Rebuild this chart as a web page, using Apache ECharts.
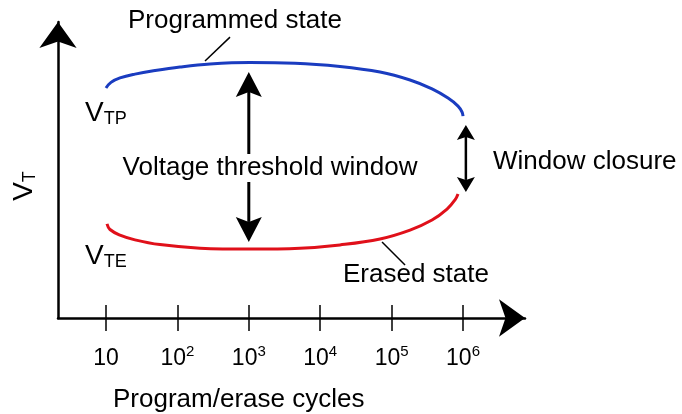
<!DOCTYPE html>
<html>
<head>
	<meta charset="utf-8" />
	<script src="https://cdn.jsdelivr.net/npm/echarts@6/dist/echarts.min.js"></script>
</head>
<body style="margin:0; background-color:#ffffff">
	<div id="main" style="width:682px; height:414px;"></div>
<script type="text/javascript">
	// x is log10(program/erase cycles), y is V_T in arbitrary units
	var decades = [1, 2, 3, 4, 5, 6];
	var exponents = ['', '2', '3', '4', '5', '6'];

	var programmedX = [1.00, 1.07, 1.196, 1.406, 1.686, 2.036, 2.457, 3.017, 3.647, 4.277, 4.838, 5.258, 5.566, 5.79, 5.93, 5.986, 6.00];
	var programmedY = [77.7, 79.6, 81.1, 82.4, 83.6, 84.8, 85.8, 86.3, 86.1, 85.0, 83.1, 80.4, 77.4, 74.3, 71.6, 69.6, 68.2];

	var erasedX = [1.014, 1.056, 1.196, 1.406, 1.756, 2.317, 3.017, 3.717, 4.277, 4.838, 5.258, 5.566, 5.776, 5.888, 5.93];
	var erasedY = [31.8, 29.9, 28.0, 26.4, 24.8, 23.6, 23.3, 23.6, 24.7, 26.7, 29.7, 33.1, 36.8, 39.9, 41.9];

	// [x, top tip, bottom tip]
	var windowArrow = [[3.0, 83.1, 25.7]];
	var closureArrow = [[6.04, 65.2, 42.6]];

	var programmedLeader = [[2.737, 94.9], [2.387, 86.8]];
	var erasedLeader = [[4.866, 25.7], [5.188, 17.9]];

	var font = '"Liberation Sans", Arial, sans-serif';

	function zip(xs, ys) {
		return xs.map(function (x, i) { return [x, ys[i]]; });
	}

	function arrowSeries(data, headW, headL, lw) {
		return {
			type: 'custom',
			data: data,
			encode: { x: 0, y: [1, 2] },
			silent: true,
			z: 5,
			renderItem: function (params, api) {
				var x = api.value(0);
				var t = api.coord([x, api.value(1)]);
				var b = api.coord([x, api.value(2)]);
				var n = headL * 0.8;
				return {
					type: 'group',
					children: [
						{ type: 'line', shape: { x1: t[0], y1: t[1] + n, x2: b[0], y2: b[1] - n }, style: { stroke: '#000', lineWidth: lw } },
						{ type: 'polygon', shape: { points: [[t[0], t[1]], [t[0] + headW / 2, t[1] + headL], [t[0], t[1] + n], [t[0] - headW / 2, t[1] + headL]] }, style: { fill: '#000' } },
						{ type: 'polygon', shape: { points: [[b[0], b[1]], [b[0] + headW / 2, b[1] - headL], [b[0], b[1] - n], [b[0] - headW / 2, b[1] - headL]] }, style: { fill: '#000' } }
					]
				};
			}
		};
	}

	var tickRich = {
		n: { fontSize: 23, lineHeight: 30, fontFamily: font, color: '#000' },
		s: { fontSize: 15, lineHeight: 17, verticalAlign: 'top', fontFamily: font, color: '#000' }
	};

	var subRich = {
		v: { fontSize: 28, lineHeight: 30, fontFamily: font, color: '#000' },
		s: { fontSize: 18, lineHeight: 12, verticalAlign: 'bottom', fontFamily: font, color: '#000' }
	};

	var myChart = echarts.init(document.getElementById('main'));

	option = {
		backgroundColor: '#ffffff',
		animation: false,
		grid: { left: 58, right: 157, top: 22, bottom: 96 },
		xAxis: [
			{
				type: 'value',
				min: 0.328,
				max: 6.868,
				axisLine: { onZero: false, lineStyle: { color: '#000', width: 2.5 }, symbol: ['none', 'arrow'], symbolSize: [28, 26] },
				splitLine: { show: false },
				axisTick: { length: 13, lineStyle: { color: '#000', width: 1.5 }, customValues: decades },
				axisLabel: {
					margin: 26,
					customValues: decades,
					formatter: function (v) {
						var i = decades.indexOf(Math.round(v));
						return '{n|10}' + (exponents[i] ? '{s|' + exponents[i] + '}' : '');
					},
					rich: tickRich
				}
			},
			{
				type: 'value',
				position: 'bottom',
				min: 0.328,
				max: 6.868,
				axisLine: { show: false, onZero: false },
				splitLine: { show: false },
				axisTick: { inside: true, length: 13, lineStyle: { color: '#000', width: 1.5 }, customValues: decades },
				axisLabel: { show: false }
			}
		],
		yAxis: {
			type: 'value',
			min: 0,
			max: 100,
			axisLine: { show: true, onZero: false, lineStyle: { color: '#000', width: 2.5 }, symbol: ['none', 'arrow'], symbolSize: [28, 26] },
			axisTick: { show: false },
			axisLabel: { show: false },
			splitLine: { show: false }
		},
		series: [
			{
				name: 'Programmed state',
				type: 'line',
				data: zip(programmedX, programmedY),
				smooth: 0.4,
				showSymbol: false,
				lineStyle: { color: '#1a3cc0', width: 3 }
			},
			{
				name: 'Erased state',
				type: 'line',
				data: zip(erasedX, erasedY),
				smooth: 0.4,
				showSymbol: false,
				lineStyle: { color: '#e0101a', width: 3 }
			},
			{
				type: 'line',
				data: programmedLeader,
				showSymbol: false,
				lineStyle: { color: '#000', width: 1.5 }
			},
			{
				type: 'line',
				data: erasedLeader,
				showSymbol: false,
				lineStyle: { color: '#000', width: 1.5 }
			},
			arrowSeries(windowArrow, 26, 25, 3),
			arrowSeries(closureArrow, 18, 15, 2.5)
		],
		graphic: [
			{ type: 'text', x: 128, y: 21, z: 100, style: { text: 'Programmed state', font: '26px ' + font, fill: '#000', verticalAlign: 'middle' } },
			{ type: 'text', x: 270, y: 168, z: 100, style: { text: 'Voltage threshold window', font: '26px ' + font, fill: '#000', align: 'center', verticalAlign: 'middle', backgroundColor: '#fff', padding: [1, 4] } },
			{ type: 'text', x: 493, y: 162, z: 100, style: { text: 'Window closure', font: '26px ' + font, fill: '#000', verticalAlign: 'middle' } },
			{ type: 'text', x: 343, y: 275, z: 100, style: { text: 'Erased state', font: '26px ' + font, fill: '#000', verticalAlign: 'middle' } },
			{ type: 'text', x: 113, y: 400, z: 100, style: { text: 'Program/erase cycles', font: '26px ' + font, fill: '#000', verticalAlign: 'middle' } },
			{ type: 'text', x: 85, y: 113, z: 100, style: { text: '{v|V}{s|TP}', rich: subRich, verticalAlign: 'middle' } },
			{ type: 'text', x: 85, y: 256, z: 100, style: { text: '{v|V}{s|TE}', rich: subRich, verticalAlign: 'middle' } },
			{ type: 'text', x: 24, y: 186, z: 100, rotation: Math.PI / 2, style: { text: '{v|V}{s|T}', rich: subRich, align: 'center', verticalAlign: 'middle' } }
		]
	};

	myChart.setOption(option);
</script>
</body>
</html>
